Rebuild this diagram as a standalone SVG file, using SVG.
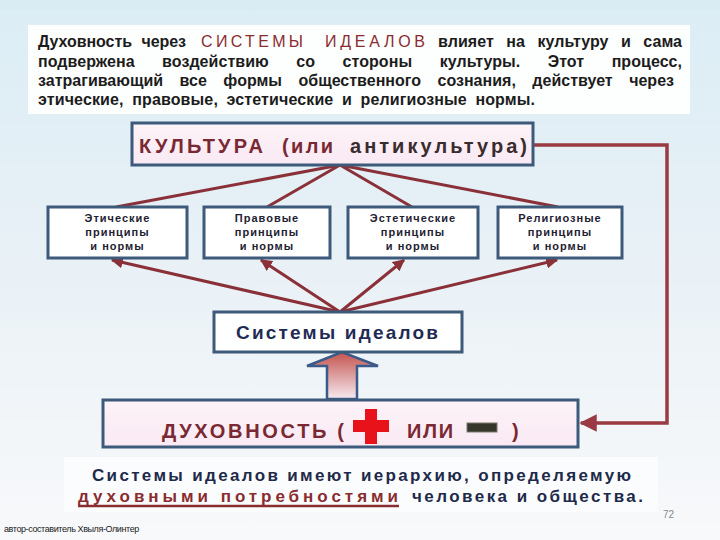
<svg xmlns="http://www.w3.org/2000/svg" width="720" height="540" viewBox="0 0 720 540">
<defs>
<linearGradient id="bg" x1="0" y1="0" x2="0" y2="1">
<stop offset="0" stop-color="#dbedf5"/>
<stop offset="0.5" stop-color="#e9f1f6"/>
<stop offset="1" stop-color="#f8f9fb"/>
</linearGradient>
<linearGradient id="arrowFill" x1="0" y1="0" x2="0" y2="1">
<stop offset="0" stop-color="#c4534c"/>
<stop offset="0.6" stop-color="#e2aeb0"/>
<stop offset="1" stop-color="#f6eaf0"/>
</linearGradient>
<linearGradient id="pinkFill" x1="0" y1="0" x2="0" y2="1">
<stop offset="0" stop-color="#fdf3f8"/>
<stop offset="1" stop-color="#f9e9f3"/>
</linearGradient>
<marker id="ah" viewBox="0 0 10 10" refX="9" refY="5" markerWidth="4" markerHeight="4" orient="auto" markerUnits="strokeWidth">
<path d="M0,0 L10,5 L0,10 z" fill="#8a3038"/>
</marker>
<marker id="ahBig" viewBox="0 0 10 10" refX="9" refY="5" markerWidth="5" markerHeight="5" orient="auto" markerUnits="strokeWidth">
<path d="M0,0 L10,5 L0,10 z" fill="#9a3a42"/>
</marker>
</defs>
<style>
.t{font-family:"Liberation Sans",Arial,sans-serif;}
.para{font-size:16px;font-weight:bold;fill:#1c1c1c;}
.red{fill:#8a2c30;font-weight:normal;}
.box{fill:#ffffff;stroke:#3d5a7a;stroke-width:3;}
.pbox{fill:url(#pinkFill);stroke:#3d5a7a;stroke-width:3;}
.small{font-size:11px;font-weight:bold;fill:#1e2232;letter-spacing:1px;text-anchor:middle;}
.conn{stroke:#8a3038;stroke-width:3;fill:none;}
</style>
<rect width="720" height="540" fill="url(#bg)"/>
<rect x="0" y="0" width="720" height="10" fill="#d9ebf3"/>

<g id="intro">
<rect x="28" y="25" width="662" height="89" fill="#fdfefe"/>
<text class="t para" y="47"><tspan x="38" word-spacing="5" textLength="148" lengthAdjust="spacing">Духовность через</tspan><tspan class="red" x="201" textLength="102" lengthAdjust="spacing">СИСТЕМЫ</tspan><tspan class="red" x="325" textLength="100" lengthAdjust="spacing">ИДЕАЛОВ</tspan><tspan x="438" word-spacing="8" textLength="244" lengthAdjust="spacing">влияет на культуру и сама</tspan></text>
<text class="t para" x="38" y="67" word-spacing="23" textLength="644" lengthAdjust="spacing">подвержена воздействию со стороны культуры. Этот процесс,</text>
<text class="t para" x="38" y="86" word-spacing="12" textLength="636" lengthAdjust="spacing">затрагивающий все формы общественного сознания, действует через</text>
<text class="t para" x="38" y="105" word-spacing="4" textLength="497" lengthAdjust="spacing">этические,  правовые, эстетические и религиозные нормы.</text>
</g>

<g id="connectors">
<line class="conn" x1="340" y1="165" x2="116" y2="207"/>
<line class="conn" x1="340" y1="165" x2="267" y2="207"/>
<line class="conn" x1="340" y1="165" x2="412" y2="207"/>
<line class="conn" x1="340" y1="165" x2="558" y2="207"/>
<line class="conn" x1="340" y1="312" x2="112" y2="260" marker-end="url(#ah)"/>
<line class="conn" x1="340" y1="312" x2="261" y2="260" marker-end="url(#ah)"/>
<line class="conn" x1="340" y1="312" x2="404" y2="260" marker-end="url(#ah)"/>
<line class="conn" x1="340" y1="312" x2="557" y2="260" marker-end="url(#ah)"/>
<path d="M533,145 H667 V423 H581" stroke="#9a3a42" stroke-width="3.5" fill="none" marker-end="url(#ahBig)"/>
<path d="M327,399 V366 H307 L342,352 L378,366 H357 V399 Z" fill="url(#arrowFill)" stroke="#3a5a8a" stroke-width="2.5" stroke-linejoin="miter"/>
</g>

<g id="culture">
<rect class="pbox" x="132" y="123" width="401" height="42"/>
<text class="t" y="153" font-size="20" font-weight="bold"><tspan x="139" fill="#7a2832" textLength="124" lengthAdjust="spacing">КУЛЬТУРА</tspan><tspan x="282" fill="#7a2832" textLength="51" lengthAdjust="spacing">(или</tspan><tspan x="350" fill="#3a2c2c" textLength="177" lengthAdjust="spacing">антикультура)</tspan></text>
</g>

<g id="ethics">
<rect class="box" x="48" y="207" width="139" height="51"/>
<text class="t small" x="117.5" y="222">Этические</text>
<text class="t small" x="117.5" y="236">принципы</text>
<text class="t small" x="117.5" y="250">и нормы</text>
</g>
<g id="law">
<rect class="box" x="204" y="207" width="126" height="51"/>
<text class="t small" x="267" y="222">Правовые</text>
<text class="t small" x="267" y="236">принципы</text>
<text class="t small" x="267" y="250">и нормы</text>
</g>
<g id="aesthetic">
<rect class="box" x="348" y="207" width="130" height="51"/>
<text class="t small" x="413" y="222">Эстетические</text>
<text class="t small" x="413" y="236">принципы</text>
<text class="t small" x="413" y="250">и нормы</text>
</g>
<g id="religion">
<rect class="box" x="498" y="207" width="124" height="51"/>
<text class="t small" x="560" y="222">Религиозные</text>
<text class="t small" x="560" y="236">принципы</text>
<text class="t small" x="560" y="250">и нормы</text>
</g>

<g id="ideals">
<rect class="box" x="214" y="312" width="248" height="40"/>
<text class="t" x="236" y="339" font-size="19" font-weight="bold" fill="#1f2b55" textLength="202" lengthAdjust="spacing">Системы  идеалов</text>
</g>

<g id="spirituality">
<rect class="pbox" x="103" y="400" width="475" height="47"/>
<text class="t" x="162" y="438" font-size="20" font-weight="bold" fill="#7a2832" textLength="182" lengthAdjust="spacing">ДУХОВНОСТЬ (</text>
<path d="M365,409 h12 v11 h12 v12 h-12 v12 h-12 v-12 h-12 v-12 h12 z" fill="#e8121a"/>
<text class="t" x="407" y="438" font-size="20" font-weight="bold" fill="#7a2832" textLength="46" lengthAdjust="spacing">ИЛИ</text>
<rect x="467" y="423" width="30" height="9" fill="#35372a" stroke="#7a7a6a" stroke-width="1"/>
<text class="t" x="512" y="438" font-size="20" font-weight="bold" fill="#7a2832">)</text>
</g>

<g id="summary">
<rect x="64" y="457" width="594" height="55" fill="#fbfcfd"/>
<text class="t" x="92" y="481" font-size="17" font-weight="bold" fill="#1e2a4a" textLength="539" lengthAdjust="spacing">Системы идеалов имеют иерархию, определяемую</text>
<text class="t" y="502" font-size="17" font-weight="bold"><tspan x="78" fill="#8a2c30" textLength="320" lengthAdjust="spacing">духовными  потребностями</tspan><tspan x="412" fill="#1e2a4a" textLength="231" lengthAdjust="spacing">человека и общества.</tspan></text>
<line x1="78" y1="506" x2="399" y2="506" stroke="#8a2c30" stroke-width="2.5"/>
</g>

<text class="t" x="663" y="518" font-size="10" fill="#888888">72</text>
<text class="t" x="4" y="532" font-size="9" fill="#222222" letter-spacing="-0.4">автор-составитель Хвыля-Олинтер</text>
</svg>
